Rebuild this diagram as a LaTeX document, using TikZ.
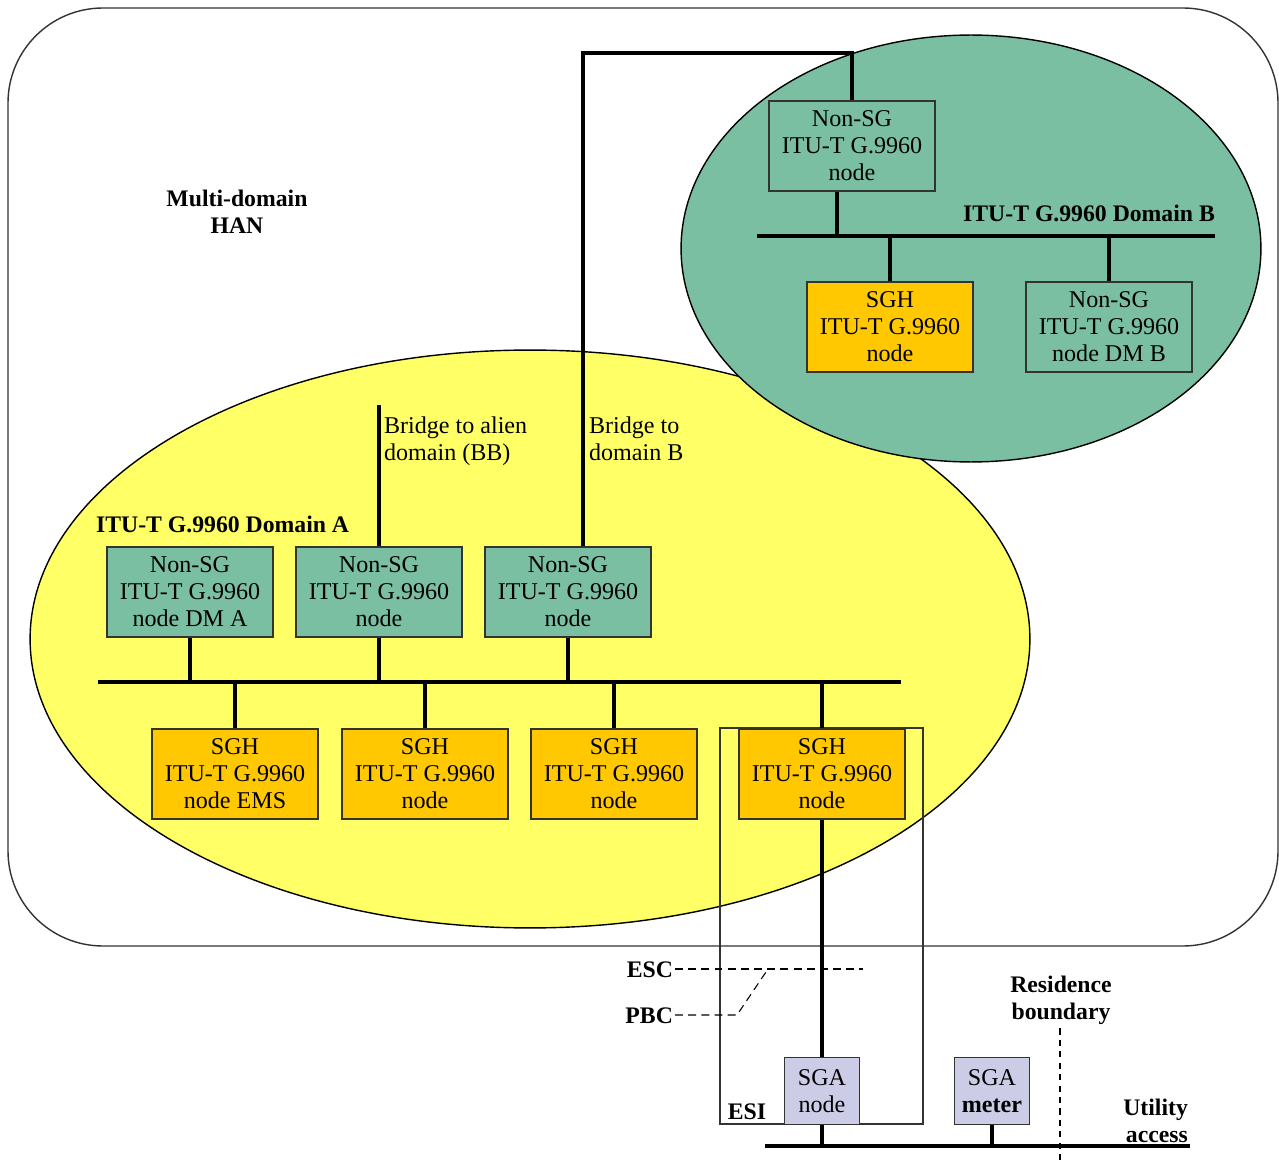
\documentclass[tikz,border=0pt]{standalone}
\usepackage{fontspec}
\setmainfont{Liberation Serif}
\usetikzlibrary{positioning}

\definecolor{domA}{RGB}{255,255,102}
\definecolor{domB}{RGB}{123,191,163}
\definecolor{sghfill}{RGB}{255,200,0}
\definecolor{sgafill}{RGB}{204,204,230}

\begin{document}
\begin{tikzpicture}[
    x=0.02cm, y=-0.02cm,
    font=\fontsize{13.7}{15.3}\selectfont,
    nodebox/.style={
      draw=black!80,
      line width=0.8pt,
      minimum width=3.32cm,
      minimum height=1.8cm,
      align=center,
      inner sep=1pt,
    },
    nonsg/.style={nodebox, fill=domB},
    sgh/.style={nodebox, fill=sghfill},
    sga/.style={
      draw=black!80,
      line width=0.8pt,
      fill=sgafill,
      minimum width=1.5cm,
      minimum height=1.34cm,
      align=center,
      inner sep=1pt,
    },
    bus/.style={line width=1.8pt},
    link/.style={line width=1.8pt},
    lbl/.style={font=\fontsize{13.5}{15.3}\selectfont\bfseries, align=center},
    note/.style={align=left, inner sep=1pt},
    bound/.style={line width=0.6pt, dash pattern=on 4.5pt off 3pt},
  ]
  \useasboundingbox (0,0) rectangle (1279,1162);

  % --- Multi-domain HAN (outer frame) ---
  \draw[line width=0.8pt, draw=black!80, rounded corners=1.9cm] (8,8) rectangle (1278,946);
  \node[lbl] (han) at (237,212) {Multi-domain\\HAN};

  % --- Domains ---
  \draw[line width=0.8pt, fill=domA] (530,639) ellipse [x radius=10cm, y radius=5.78cm];
  \draw[line width=0.8pt, fill=domB] (971,248.5) ellipse [x radius=5.8cm, y radius=4.27cm];
  \node[lbl, anchor=west, inner sep=1pt] (labA) at (94,524) {ITU-T G.9960 Domain A};
  \node[lbl, anchor=east, inner sep=1pt] (labB) at (1217,213) {ITU-T G.9960 Domain B};

  % --- ESI boundary ---
  \draw[line width=0.8pt, draw=black!80] (720,728) rectangle (923,1124);
  \node[lbl] (esi) at (747,1112) {ESI};

  % --- Domain A nodes ---
  \node[nonsg] (dmA)   at (190,592) {Non-SG\\ITU-T G.9960\\node DM A};
  \node[nonsg] (nsgA2) at (379,592) {Non-SG\\ITU-T G.9960\\node};
  \node[nonsg] (nsgA3) at (568,592) {Non-SG\\ITU-T G.9960\\node};
  \node[sgh] (ems)  at (235,774) {SGH\\ITU-T G.9960\\node EMS};
  \node[sgh] (sghA2) at (425,774) {SGH\\ITU-T G.9960\\node};
  \node[sgh] (sghA3) at (614,774) {SGH\\ITU-T G.9960\\node};
  \node[sgh] (sghA4) at (822,774) {SGH\\ITU-T G.9960\\node};

  % --- Domain B nodes ---
  \node[nonsg] (nsgB) at (852,146) {Non-SG\\ITU-T G.9960\\node};
  \node[sgh] (sghB)   at (890,327) {SGH\\ITU-T G.9960\\node};
  \node[nonsg] (dmB)  at (1109,327) {Non-SG\\ITU-T G.9960\\node DM B};

  % --- Utility side ---
  \node[sga] (sgaNode)  at (822,1091) {SGA\\node};
  \node[sga] (sgaMeter) at (992,1091) {SGA\\\textbf{meter}};
  \node[lbl, align=right, anchor=east, inner sep=1pt] (util) at (1190,1121) {Utility\\access};
  \node[lbl] (resb) at (1061,1000) {Residence\\boundary};

  % --- Buses ---
  \coordinate (busAw) at (98,682);
  \coordinate (busAe) at (901,682);
  \coordinate (busBw) at (757,236);
  \coordinate (busBe) at (1215,236);
  \coordinate (busUw) at (765,1146);
  \coordinate (busUe) at (1190,1146);
  \draw[bus] (busAw) -- (busAe);
  \draw[bus] (busBw) -- (busBe);
  \draw[bus] (busUw) -- (busUe);

  % --- Node drops onto buses ---
  \foreach \n in {dmA, nsgA2, nsgA3}
    \draw[link] (\n.south) -- (\n.south |- busAw);
  \foreach \n in {ems, sghA2, sghA3, sghA4}
    \draw[link] (\n.north) -- (\n.north |- busAw);
  \foreach \n in {sghB, dmB}
    \draw[link] (\n.north) -- (\n.north |- busBw);
  \draw[link] (nsgB.south) ++(-15,0) coordinate (bdrop) -- (bdrop |- busBw);
  \draw[link] (sghA4.south) -- (sgaNode.north);
  \draw[link] (sgaNode.south) -- (sgaNode.south |- busUw);
  \draw[link] (sgaMeter.south) -- (sgaMeter.south |- busUw);

  % --- Bridges ---
  \coordinate (topB) at (583,53);
  \draw[link] (nsgB.north) |- (topB) -- (topB |- nsgA3.north);
  \coordinate (alien) at (379,405);
  \draw[link] (alien) -- (nsgA2.north);
  \node[note, anchor=north west] (brA) at (382,415) {Bridge to alien\\domain (BB)};
  \node[note, anchor=north west] (brB) at (587,415) {Bridge to\\domain B};

  % --- ESC / PBC ---
  \node[lbl, anchor=east, inner sep=1pt] (esc) at (675,970) {ESC};
  \node[lbl, anchor=east, inner sep=1pt] (pbc) at (675,1016) {PBC};
  \coordinate (escEnd) at (863,969);
  \coordinate (pbcBend) at (737,1015);
  \coordinate (pbcJoin) at (768,969);
  \draw[bound] (esc.east |- escEnd) -- (escEnd);
  \draw[bound] (pbc.east |- pbcBend) -- (pbcBend) -- (pbcJoin);

  % --- Residence boundary ---
  \coordinate (resBot) at (1060,1162);
  \draw[bound, dash pattern=on 3.5pt off 3pt] (resb.south -| resBot) ++(0,-2) -- (resBot);

\end{tikzpicture}
\end{document}
